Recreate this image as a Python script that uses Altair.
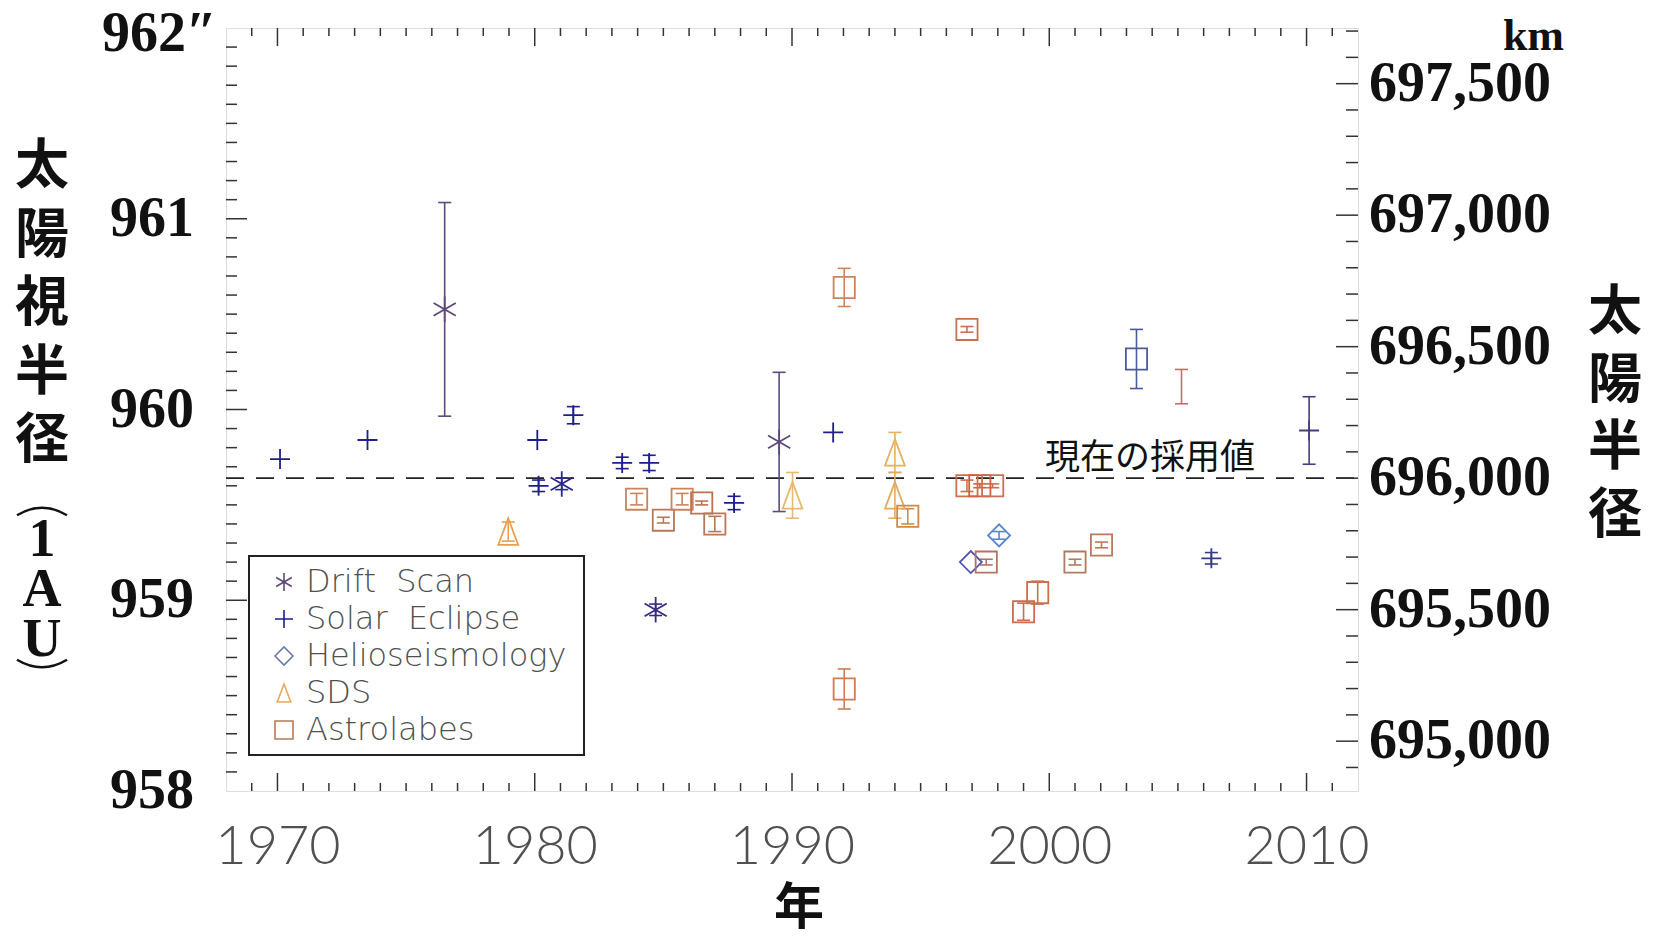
import altair as alt
import numpy as np
import pandas as pd

# ---------------- data ----------------
methods = ["Drift\u00a0 Scan", "Solar\u00a0 Eclipse", "Helioseismology", "SDS", "Astrolabes"]
method_colors = ["#5e4a7a", "#1e1e8c", "#6a7ab0", "#e8a862", "#b87a5a"]

drift_year = [1976.5, 1981.05, 1984.7, 1989.5]
drift_val = [960.525, 959.61, 958.95, 959.83]
drift_err = [0.56, 0.03, 0.03, 0.365]
drift_color = ["#5e4a7a", "#28288e", "#3a2a80", "#5e4a7a"]

eclipse_year = [1970.1, 1973.5, 1980.1, 1980.15, 1981.5, 1983.4, 1984.45, 1987.75, 1991.6, 2006.3, 2010.1]
eclipse_val = [959.74, 959.84, 959.84, 959.60, 959.97, 959.72, 959.72, 959.51, 959.88, 959.22, 959.89]
eclipse_err = [0.0, 0.0, 0.0, 0.03, 0.045, 0.03, 0.04, 0.035, 0.0, 0.03, 0.177]
eclipse_color = ["#1e1e8c", "#1e1e8c", "#1e1e8c", "#1e1e8c", "#1e1e8c", "#1e1e8c",
                 "#1e1e8c", "#1e1e8c", "#1e1e8c", "#3a3a8a", "#4a3c7c"]

helio_year = [1996.95, 1998.05]
helio_val = [959.20, 959.34]
helio_err = [0.0, 0.02]
helio_color = ["#4e52b0", "#5a86cc"]

sds_year = [1978.97, 1990.02, 1994.0, 1994.0]
sds_val = [959.36, 959.55, 959.775, 959.55]
sds_err = [0.05, 0.12, 0.105, 0.12]
sds_color = ["#e6a050", "#e8b870", "#e8b060", "#e8a860"]

astro_year = [1983.96, 1985.0, 1985.73, 1986.49, 1987.0, 1992.03, 1992.03, 1994.5, 1996.8,
              1996.8, 1997.3, 1997.8, 1997.55, 1999.0, 1999.55, 2001.0, 2002.03, 2003.39]
astro_val = [959.53, 959.42, 959.53, 959.51, 959.40, 960.64, 958.535, 959.44, 960.42,
             959.60, 959.60, 959.60, 959.20, 958.94, 959.04, 959.20, 959.29, 960.265]
astro_err = [0.03, 0.015, 0.03, 0.01, 0.04, 0.10, 0.105, 0.04, 0.015,
             0.03, 0.01, 0.01, 0.015, 0.045, 0.06, 0.015, 0.015, 0.155]
astro_color = ["#c8845c", "#b8785a", "#c8845c", "#c07050", "#b87858", "#d0845a", "#d07a52",
               "#d08848", "#c87050", "#d07048", "#d06040", "#c87058", "#b87060", "#d06a48",
               "#c87050", "#b07a60", "#b87a60", "#4c5c98"]

extra_year = [2005.14]
extra_val = [960.12]
extra_err = [0.09]
extra_color = ["#c86a6a"]

adopted_arcsec = [959.64]
adopted_km = 696000
x_label_years = [1970, 1980, 1990, 2000, 2010]
y_label_arcsec = [958, 959, 960, 961]
y_top_label = [962]
km_labels = [695000, 695500, 696000, 696500, 697000, 697500]

# ---------------- layout constants ----------------
W, H = 1132, 763
KM_PER_ARCSEC = adopted_km / adopted_arcsec[0]


def block(method, years, vals, errs, colors, marker=True):
    return pd.DataFrame({"year": years, "val": vals, "err": errs, "color": colors,
                         "method": method, "marker": marker})


df = pd.concat([
    block(methods[0], drift_year, drift_val, drift_err, drift_color),
    block(methods[1], eclipse_year, eclipse_val, eclipse_err, eclipse_color),
    block(methods[2], helio_year, helio_val, helio_err, helio_color),
    block(methods[3], sds_year, sds_val, sds_err, sds_color),
    block(methods[4], astro_year, astro_val, astro_err, astro_color),
    block("other", extra_year, extra_val, extra_err, extra_color, marker=False),
], ignore_index=True)
df["lo"] = df["val"] - df["err"]
df["hi"] = df["val"] + df["err"]

eb = df[df["err"] > 0].copy()
caps = pd.concat([
    pd.DataFrame({"year": eb["year"], "val": eb["lo"], "color": eb["color"]}),
    pd.DataFrame({"year": eb["year"], "val": eb["hi"], "color": eb["color"]}),
], ignore_index=True)
pts = df[df["marker"]].copy()

xscale = alt.Scale(domain=[1968, 2012], nice=False, zero=False)
yscale = alt.Scale(domain=[958, 962], nice=False, zero=False)
xaxis = alt.Axis(values=x_label_years, format="d", title=None, ticks=False, tickSize=0,
                 domain=False, grid=False, labelFont="Lato", labelFontSize=54,
                 labelFontWeight=300, labelColor="#505050", labelPadding=56,
                 labelFlush=False, labelOverlap=False, labelBaseline="middle")


def X(field):
    return alt.X(f"{field}:Q", scale=xscale, axis=xaxis)


def Y(field):
    return alt.Y(f"{field}:Q", scale=yscale, axis=None)


one = pd.DataFrame({"a": [0]})

dash = alt.Chart(pd.DataFrame({"val": adopted_arcsec})).mark_rule(
    color="#222222", strokeWidth=1.9, strokeDash=[18, 12]
).encode(y=Y("val"), x=alt.value(0), x2=alt.value(W))

annot = alt.Chart(pd.DataFrame({"val": adopted_arcsec, "label": ["現在の採用値"]})).mark_text(
    font="Noto Sans CJK JP", fontSize=35, color="#111111", align="center",
    baseline="middle", dy=-20
).encode(y=Y("val"), x=alt.value(924), text="label:N")

errbars = alt.Chart(eb).mark_rule(strokeWidth=1.6).encode(
    x=X("year"), y=Y("lo"), y2="hi:Q", color=alt.Color("color:N", scale=None))

capmarks = alt.Chart(caps).mark_point(
    shape="M-1,0L1,0", size=170, filled=False, strokeWidth=1.6, opacity=1
).encode(x=X("year"), y=Y("val"), color=alt.Color("color:N", scale=None))

marker_styles = [
    ("M0,-1L0,1M-0.87,-0.5L0.87,0.5M-0.87,0.5L0.87,-0.5", 650),
    ("M-1,0L1,0M0,-1L0,1", 400),
    ("diamond", 484),
    ("M0,-1L0.75,1L-0.75,1Z", 700),
    ("square", 450),
]
marker_layers = []
for m, (path, sz) in zip(methods, marker_styles):
    sub = pts[pts["method"] == m]
    marker_layers.append(
        alt.Chart(sub).mark_point(shape=path, size=sz, filled=False, strokeWidth=1.8, opacity=1)
        .encode(x=X("year"), y=Y("val"), color=alt.Color("color:N", scale=None))
    )

leg = alt.Legend(title=None, orient="none", legendX=42, legendY=538, labelFont="DejaVu Sans",
                 labelFontSize=32, labelFontWeight=200, labelColor="#505050",
                 symbolSize=324, symbolStrokeWidth=1.6, symbolOpacity=1, rowPadding=5,
                 labelOffset=6, padding=0, labelLimit=400, zindex=1)
legend_layer = alt.Chart(pts.drop_duplicates("method")).mark_point(
    filled=False, opacity=0
).encode(
    x=X("year"), y=Y("val"),
    color=alt.Color("method:N", scale=alt.Scale(domain=methods, range=method_colors), legend=leg),
    shape=alt.Shape("method:N", scale=alt.Scale(domain=methods, range=[s[0] for s in marker_styles]),
                    legend=leg),
)

legend_box = alt.Chart(one).mark_rect(filled=False, stroke="#222222", strokeWidth=2).encode(
    x=alt.value(23), x2=alt.value(358), y=alt.value(528), y2=alt.value(727))

# ---------------- inward ticks ----------------
x_major = x_label_years
x_minor = [int(v) for v in np.arange(1969, 2012) if v % 10 != 0]
y_major = [959, 960, 961]
y_minor = [round(958 + 0.1 * i, 1) for i in range(1, 40) if i % 10 != 0]
km_major = km_labels
km_minor = [int(v) for v in np.arange(694900, 697800, 100) if v % 500 != 0]

TICK_COLOR = "#333333"


def xticks(vals, length, top):
    d = pd.DataFrame({"t": vals})
    if top:
        yy, yy2 = alt.value(0), alt.value(length)
    else:
        yy, yy2 = alt.value(H), alt.value(H - length)
    return alt.Chart(d).mark_rule(color=TICK_COLOR, strokeWidth=1.5).encode(x=X("t"), y=yy, y2=yy2)


def yticks(vals, length, right):
    d = pd.DataFrame({"t": vals})
    if right:
        xx, xx2 = alt.value(W), alt.value(W - length)
    else:
        xx, xx2 = alt.value(0), alt.value(length)
    return alt.Chart(d).mark_rule(color=TICK_COLOR, strokeWidth=1.5).encode(y=Y("t"), x=xx, x2=xx2)


tick_layers = [
    xticks(x_minor, 8, False), xticks(x_major, 18, False),
    xticks(x_minor, 8, True), xticks(x_major, 18, True),
    yticks(y_minor, 11, False), yticks(y_major, 21, False),
    yticks([v / KM_PER_ARCSEC for v in km_minor], 12, True),
    yticks([v / KM_PER_ARCSEC for v in km_major], 22, True),
]

NUM_FONT = dict(font="Liberation Serif", fontWeight="bold", fontSize=56, color="#111111",
                baseline="middle")

left_labels = alt.Chart(pd.DataFrame({
    "t": y_label_arcsec, "lab": [str(v) for v in y_label_arcsec],
})).mark_text(align="left", **NUM_FONT).encode(y=Y("t"), x=alt.value(-116), text="lab:N")

top_label = alt.Chart(pd.DataFrame({
    "t": y_top_label, "lab": [f"{v}\u2033" for v in y_top_label],
})).mark_text(align="left", dy=6, **NUM_FONT).encode(y=Y("t"), x=alt.value(-124), text="lab:N")

right_labels = alt.Chart(pd.DataFrame({
    "t": [v / KM_PER_ARCSEC for v in km_labels],
    "lab": [f"{v:,}" for v in km_labels],
})).mark_text(align="left", dx=11, **NUM_FONT).encode(y=Y("t"), x=alt.value(W), text="lab:N")


def label(text, x, y, size, font="Noto Sans CJK JP", weight="bold", lh=None, align="center",
          baseline="middle"):
    kw = dict(font=font, fontSize=size, fontWeight=weight, color="#111111", align=align,
              baseline=baseline)
    if lh is not None:
        kw.update(lineBreak="\n", lineHeight=lh)
    return alt.Chart(one).mark_text(**kw).encode(x=alt.value(x), y=alt.value(y), text=alt.value(text))


def bracket(path, x, y):
    # vertical-writing parenthesis of the title, drawn as a thin arc
    return alt.Chart(one).mark_point(shape=path, size=2500, filled=False, strokeWidth=2.4,
                                     color="#111111", opacity=1).encode(
        x=alt.value(x), y=alt.value(y))


titles = [
    label("太\n陽\n視\n半\n径", -184, 140, 54, lh=68.6),
    bracket("M-1,0.25Q0,-0.35 1,0.25", -184, 481),
    label("1\nA\nU", -184, 512, 54, font="Liberation Serif", weight="bold", lh=50),
    bracket("M-1,-0.25Q0,0.35 1,-0.25", -184, 638),
    label("太\n陽\n半\n径", 1389, 286, 54, lh=67.5),
    label("km", 1338, 22, 44, font="Liberation Serif", align="right", baseline="alphabetic"),
    label("年", 573, 881, 50),
]

chart = alt.layer(
    dash, annot, errbars, capmarks, *marker_layers, legend_layer, legend_box,
    *tick_layers, left_labels, top_label, right_labels, *titles
).resolve_scale(color="independent", shape="independent").properties(
    width=W, height=H,
    autosize=alt.AutoSizeParams(type="none"),
    padding={"left": 226, "top": 28, "right": 297, "bottom": 146},
).configure_view(stroke="#222222", strokeWidth=2).configure(background="white")

chart.save("out.html", embed_options={"renderer": "svg", "actions": False})
